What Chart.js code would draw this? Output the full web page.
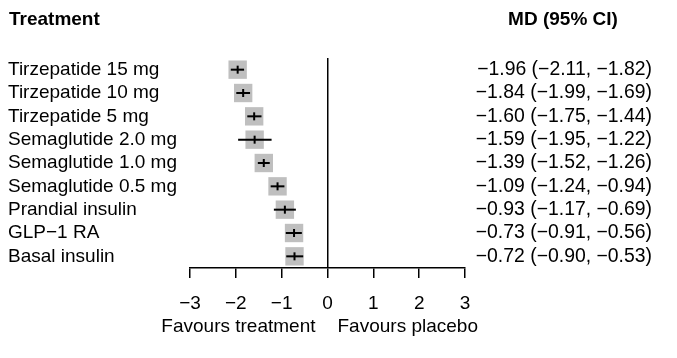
<!DOCTYPE html>
<html>
<head>
<meta charset="utf-8">
<script src="https://cdn.jsdelivr.net/npm/chart.js@4/dist/chart.umd.min.js"></script>
<style>
html,body{margin:0;padding:0;background:#fff;}
#wrap{width:677px;height:358px;position:relative;}
canvas{display:block;}
</style>
</head>
<body>
<div id="wrap"><canvas id="c" width="677" height="358"></canvas></div>
<script>
// ---- data ----
const treatments = [
  'Tirzepatide 15 mg',
  'Tirzepatide 10 mg',
  'Tirzepatide 5 mg',
  'Semaglutide 2.0 mg',
  'Semaglutide 1.0 mg',
  'Semaglutide 0.5 mg',
  'Prandial insulin',
  'GLP\u22121 RA',
  'Basal insulin'
];
const md    = [-1.96, -1.84, -1.60, -1.59, -1.39, -1.09, -0.93, -0.73, -0.72];
const lower = [-2.11, -1.99, -1.75, -1.95, -1.52, -1.24, -1.17, -0.91, -0.90];
const upper = [-1.82, -1.69, -1.44, -1.22, -1.26, -0.94, -0.69, -0.56, -0.53];
const xTicks = [-3, -2, -1, 0, 1, 2, 3];
const headerLeft = 'Treatment';
const headerRight = 'MD (95% CI)';
const favourLeft = 'Favours treatment';
const favourRight = 'Favours placebo';

// ---- helpers ----
const fmt = v => (v < 0 ? '\u2212' : '') + Math.abs(v).toFixed(2);
const ciLabels = md.map((m, i) => `${fmt(m)} (${fmt(lower[i])}, ${fmt(upper[i])})`);
const FAMILY = '"Liberation Sans", Arial, Helvetica, sans-serif';
const FS = 19;
Chart.defaults.font.family = FAMILY;
Chart.defaults.font.size = FS;
Chart.defaults.color = '#000';

const estPoints = md.map((m, i) => ({ x: m, y: treatments[i] }));

const datasets = [
  {
    label: 'estimate',
    data: estPoints,
    pointStyle: 'line',
    pointRotation: 90,
    pointRadius: 4,
    pointBorderWidth: 2,
    pointBorderColor: '#000',
    pointBackgroundColor: '#000',
    order: 0
  },
  ...treatments.map((t, i) => ({
    label: 'ci' + i,
    data: [{ x: lower[i], y: t }, { x: upper[i], y: t }],
    showLine: true,
    borderColor: '#000',
    borderWidth: 2,
    pointRadius: 0,
    order: 1
  })),
  {
    label: 'box',
    data: estPoints,
    pointStyle: 'rect',
    pointRadius: 13,
    pointBorderWidth: 0,
    pointBackgroundColor: '#bfbfbf',
    pointBorderColor: '#bfbfbf',
    order: 2
  }
];

const textPlugin = {
  id: 'forestText',
  afterDraw(chart) {
    const { ctx, scales } = chart;
    ctx.save();
    ctx.fillStyle = '#000';
    ctx.textBaseline = 'middle';
    ctx.font = `bold ${FS}px ${FAMILY}`;
    ctx.textAlign = 'left';
    ctx.fillText(headerLeft, scales.y.left + 1, 20);
    ctx.textAlign = 'center';
    ctx.fillText(headerRight, 563, 20);
    ctx.font = `${FS}px ${FAMILY}`;
    const x0 = scales.x.getPixelForValue(0);
    ctx.textAlign = 'right';
    ctx.fillText(favourLeft, x0 - 12, 327);
    ctx.textAlign = 'left';
    ctx.fillText(favourRight, x0 + 10, 327);
    ctx.restore();
  }
};

new Chart(document.getElementById('c'), {
  type: 'scatter',
  data: { datasets },
  plugins: [textPlugin],
  options: {
    responsive: false,
    animation: false,
    devicePixelRatio: 1,
    events: [],
    layout: { padding: { left: 8, right: 25, top: 58, bottom: 0 } },
    plugins: { legend: { display: false }, tooltip: { enabled: false } },
    scales: {
      x: {
        type: 'linear',
        position: 'bottom',
        min: -3,
        max: 3,
        afterBuildTicks: s => { s.ticks = xTicks.map(v => ({ value: v })); },
        afterFit: s => { s.height = 90; },
        ticks: {
          autoSkip: false,
          maxRotation: 0,
          padding: 14,
          color: '#000',
          callback: v => (v < 0 ? '\u2212' + Math.abs(v) : String(v))
        },
        grid: {
          drawOnChartArea: true,
          drawTicks: true,
          tickLength: 10,
          lineWidth: 1.5,
          tickWidth: 1.5,
          tickColor: '#000',
          color: c => (c.tick && c.tick.value === 0 ? '#000' : 'rgba(0,0,0,0)')
        },
        border: { display: true, color: '#000', width: 1.5 }
      },
      y: {
        type: 'category',
        labels: treatments,
        position: 'left',
        offset: true,
        afterFit: s => { s.width = 182; },
        grid: { display: false, drawTicks: false },
        border: { display: false },
        ticks: { crossAlign: 'far', autoSkip: false, color: '#000', padding: 0 }
      },
      y2: {
        type: 'category',
        labels: ciLabels,
        position: 'right',
        offset: true,
        afterFit: s => { s.width = 187; },
        grid: { display: false, drawTicks: false },
        border: { display: false },
        ticks: { crossAlign: 'far', autoSkip: false, color: '#000', padding: 0, font: { size: 19.4 } }
      }
    }
  }
});
</script>
</body>
</html>
